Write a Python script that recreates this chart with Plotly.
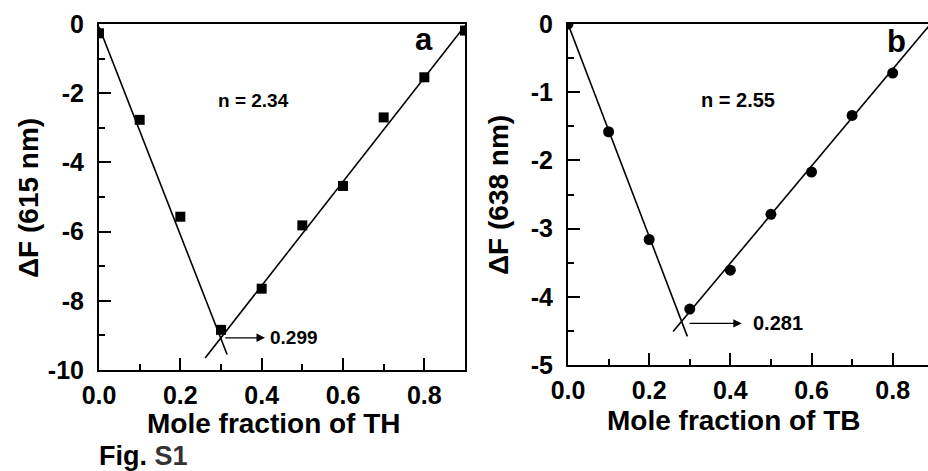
import plotly.graph_objects as go

W, H = 928, 471

# ---------------- data ----------------
frac_a = [0.0, 0.1, 0.2, 0.3, 0.4, 0.5, 0.6, 0.7, 0.8, 0.9]
dF_a = [-0.27, -2.77, -5.57, -8.84, -7.65, -5.82, -4.68, -2.70, -1.54, -0.19]
fit_a_left_x = [0.0, 0.315]
fit_a_left_y = [-0.08, -9.55]
fit_a_right_x = [0.261, 0.9]
fit_a_right_y = [-9.65, -0.05]

frac_b = [0.0, 0.1, 0.2, 0.3, 0.4, 0.5, 0.6, 0.7, 0.8]
dF_b = [0.0, -1.58, -3.16, -4.18, -3.61, -2.79, -2.17, -1.34, -0.72]
fit_b_left_x = [0.0, 0.294]
fit_b_left_y = [0.0, -4.58]
fit_b_right_x = [0.259, 0.9]
fit_b_right_y = [-4.51, 0.05]

x_tick_vals = [0.0, 0.2, 0.4, 0.6, 0.8]
x_tick_text = ["0.0", "0.2", "0.4", "0.6", "0.8"]
ya_tick_vals = [0, -2, -4, -6, -8, -10]
ya_tick_text = ["0", "-2", "-4", "-6", "-8", "-10"]
yb_tick_vals = [0, -1, -2, -3, -4, -5]
yb_tick_text = ["0", "-1", "-2", "-3", "-4", "-5"]

n_a_text, n_b_text = "n = 2.34", "n = 2.55"
cross_a, cross_b = 0.299, 0.281

# ---------------- layout helpers ----------------
def px_x(p):
    return p / W

def px_y(p):
    return 1 - p / H

FONT = "Liberation Sans"
BLACK = "#000000"

fig = go.Figure()

line_style = dict(color=BLACK, width=1.6)
fig.add_trace(go.Scatter(x=fit_a_left_x, y=fit_a_left_y, mode="lines", line=line_style,
                         xaxis="x", yaxis="y", showlegend=False, hoverinfo="skip"))
fig.add_trace(go.Scatter(x=fit_a_right_x, y=fit_a_right_y, mode="lines", line=line_style,
                         xaxis="x", yaxis="y", showlegend=False, hoverinfo="skip"))
fig.add_trace(go.Scatter(x=frac_a, y=dF_a, mode="markers",
                         marker=dict(symbol="square", size=10, color=BLACK),
                         xaxis="x", yaxis="y", showlegend=False, cliponaxis=True))

fig.add_trace(go.Scatter(x=fit_b_left_x, y=fit_b_left_y, mode="lines", line=line_style,
                         xaxis="x2", yaxis="y2", showlegend=False, hoverinfo="skip"))
fig.add_trace(go.Scatter(x=fit_b_right_x, y=fit_b_right_y, mode="lines", line=line_style,
                         xaxis="x2", yaxis="y2", showlegend=False, hoverinfo="skip"))
fig.add_trace(go.Scatter(x=frac_b, y=dF_b, mode="markers",
                         marker=dict(symbol="circle", size=11, color=BLACK),
                         xaxis="x2", yaxis="y2", showlegend=False, cliponaxis=True))

tickfont = dict(family=FONT, size=25, color=BLACK, weight="bold")
common_x = dict(showgrid=False, zeroline=False, showline=True, linecolor=BLACK, linewidth=2,
                ticks="inside", ticklen=12, tickwidth=2, tickcolor=BLACK,
                tickvals=x_tick_vals, ticktext=x_tick_text, tickfont=tickfont,
                minor=dict(ticks="inside", ticklen=6, tickwidth=2, tickcolor=BLACK, dtick=0.1, tick0=0),
                ticklabelstandoff=2, fixedrange=True, automargin=False)
common_y = dict(showgrid=False, zeroline=False, showline=True, linecolor=BLACK, linewidth=2,
                ticks="inside", ticklen=12, tickwidth=2, tickcolor=BLACK, tickfont=tickfont,
                ticklabelstandoff=8, fixedrange=True, automargin=False)

fig.update_layout(
    template="none",
    width=W, height=H,
    margin=dict(l=0, r=0, t=0, b=0, pad=0),
    paper_bgcolor="white", plot_bgcolor="white",
    showlegend=False,
    xaxis=dict(common_x, domain=[px_x(99), px_x(465)], range=[0, 0.9], anchor="y", mirror=True),
    yaxis=dict(common_y, domain=[px_y(370), px_y(24)], range=[-10, 0], anchor="x", mirror=True,
               tickvals=ya_tick_vals, ticktext=ya_tick_text,
               minor=dict(ticks="inside", ticklen=6, tickwidth=2, tickcolor=BLACK, dtick=1, tick0=0)),
    xaxis2=dict(common_x, domain=[px_x(568), 1.0], range=[0, 0.887], anchor="y2", mirror=True),
    yaxis2=dict(common_y, domain=[px_y(365), px_y(24)], range=[-5, 0], anchor="x2", mirror=False,
                tickvals=yb_tick_vals, ticktext=yb_tick_text,
                minor=dict(ticks="inside", ticklen=6, tickwidth=2, tickcolor=BLACK, dtick=0.5, tick0=0)),
)

ann = []
# in-plot texts, panel a
ann.append(dict(x=0.38, y=-2.2, xref="x", yref="y", text=n_a_text, showarrow=False,
                font=dict(family=FONT, size=19, color=BLACK, weight="bold")))
ann.append(dict(x=0.80, y=-0.46, xref="x", yref="y", text="a", showarrow=False,
                font=dict(family=FONT, size=31, color=BLACK, weight="bold")))
ann.append(dict(x=0.408, y=-9.07, ax=0.307, ay=-9.07, xref="x", yref="y", axref="x", ayref="y",
                text="", showarrow=True, arrowhead=2, arrowsize=1.4, arrowwidth=1.2, arrowcolor=BLACK))
ann.append(dict(x=0.416, y=-9.07, xref="x", yref="y", text=f"{cross_a:.3f}", showarrow=False,
                xanchor="left", font=dict(family=FONT, size=19, color=BLACK, weight="bold")))
# panel b
ann.append(dict(x=0.419, y=-1.11, xref="x2", yref="y2", text=n_b_text, showarrow=False,
                font=dict(family=FONT, size=20, color=BLACK, weight="bold")))
ann.append(dict(x=0.81, y=-0.26, xref="x2", yref="y2", text="b", showarrow=False,
                font=dict(family=FONT, size=31, color=BLACK, weight="bold")))
ann.append(dict(x=0.428, y=-4.39, ax=0.296, ay=-4.39, xref="x2", yref="y2", axref="x2", ayref="y2",
                text="", showarrow=True, arrowhead=2, arrowsize=1.4, arrowwidth=1.2, arrowcolor=BLACK))
ann.append(dict(x=0.450, y=-4.39, xref="x2", yref="y2", text=f"{cross_b:.3f}", showarrow=False,
                xanchor="left", font=dict(family=FONT, size=20, color=BLACK, weight="bold")))

# axis titles
title_font = dict(family=FONT, size=28, color=BLACK, weight="bold")
ann.append(dict(x=px_x(274), y=px_y(423), xref="paper", yref="paper", text="Mole fraction of TH",
                showarrow=False, xanchor="center", yanchor="middle", font=title_font))
ann.append(dict(x=px_x(734), y=px_y(420), xref="paper", yref="paper", text="Mole fraction of TB",
                showarrow=False, xanchor="center", yanchor="middle", font=title_font))
ann.append(dict(x=px_x(28), y=px_y(198), xref="paper", yref="paper", text="ΔF (615 nm)",
                showarrow=False, textangle=-90, xanchor="center", yanchor="middle", font=title_font))
ann.append(dict(x=px_x(498), y=px_y(195), xref="paper", yref="paper", text="ΔF (638 nm)",
                showarrow=False, textangle=-90, xanchor="center", yanchor="middle", font=title_font))
# figure label
ann.append(dict(x=px_x(97), y=px_y(456), xref="paper", yref="paper",
                text="Fig.<span style='color:#333333'> S1</span>",
                showarrow=False, xanchor="left", yanchor="middle",
                font=dict(family=FONT, size=27, color=BLACK, weight="bold")))

fig.update_layout(annotations=ann)

fig.write_html("out.html")
